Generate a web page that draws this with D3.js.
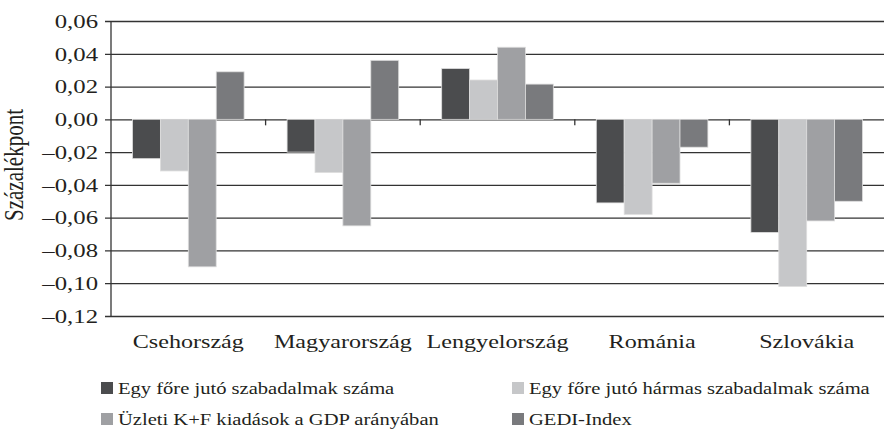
<!DOCTYPE html>
<html>
<head>
<meta charset="utf-8">
<script src="https://cdn.jsdelivr.net/npm/d3@7"></script>
<style>
  body { margin: 0; background: #fff; }
  svg text { font-family: "Liberation Serif", "Times New Roman", serif; fill: #231f20; }
</style>
</head>
<body>
<div id="chart"></div>
<script>
// data
const countries = ["Csehország", "Magyarország", "Lengyelország", "Románia", "Szlovákia"];
const seriesNames = [
  "Egy főre jutó szabadalmak száma",
  "Egy főre jutó hármas szabadalmak száma",
  "Üzleti K+F kiadások a GDP arányában",
  "GEDI-Index"
];
const patents = [-0.024, -0.020, 0.031, -0.051, -0.069];
const triadic = [-0.0315, -0.0325, 0.024, -0.058, -0.102];
const rdSpend = [-0.090, -0.065, 0.044, -0.039, -0.062];
const gedi = [0.029, 0.036, 0.0215, -0.017, -0.050];
const yTicks = [0.06, 0.04, 0.02, 0, -0.02, -0.04, -0.06, -0.08, -0.10, -0.12];

const seriesValues = [patents, triadic, rdSpend, gedi];
const colors = ["#4b4c4e", "#c6c7c9", "#9fa0a3", "#797a7d"];
const stretch = 1.27; // the picture's text is wider than normal Times

const width = 884, height = 433;
const margin = { top: 21, right: 0, bottom: 117, left: 111 };

const svg = d3.select("#chart").append("svg")
  .attr("width", width)
  .attr("height", height);

const x = d3.scaleBand()
  .domain(countries)
  .range([margin.left, width - margin.right]);

const xInner = d3.scaleBand()
  .domain(d3.range(seriesNames.length))
  .range([0, x.bandwidth()])
  .paddingInner(0)
  .paddingOuter(0.77);

const y = d3.scaleLinear()
  .domain([-0.12, 0.06])
  .range([height - margin.bottom, margin.top]);

const fmt = v => {
  const s = Math.abs(v).toFixed(2).replace(".", ",");
  return v < -1e-9 ? "\u2013" + s : s;
};

// gridlines + y ticks
const yAxis = svg.append("g")
  .attr("transform", `translate(${margin.left},0)`)
  .call(d3.axisLeft(y).tickValues(yTicks).tickFormat(fmt)
    .tickSize(-(width - margin.left - margin.right)).tickPadding(13));
yAxis.select(".domain").remove();
yAxis.selectAll(".tick line")
  .attr("x1", -6)
  .attr("stroke", "#333")
  .attr("stroke-width", 1.3);
yAxis.selectAll(".tick text")
  .attr("class", "stretch")
  .style("font-size", "19.5px")
  .style("font-family", "Liberation Serif, serif")
  .attr("fill", "#231f20");

// bars
const rows = countries.map((c, i) => ({ country: c, values: seriesValues.map(s => s[i]) }));
svg.append("g").selectAll("g")
  .data(rows)
  .join("g")
  .attr("transform", d => `translate(${x(d.country)},0)`)
  .selectAll("rect")
  .data(d => d.values.map((v, k) => ({ k, v })))
  .join("rect")
  .attr("x", d => xInner(d.k))
  .attr("width", xInner.bandwidth())
  .attr("y", d => y(Math.max(0, d.v)))
  .attr("height", d => Math.abs(y(d.v) - y(0)))
  .attr("fill", d => colors[d.k])
  .attr("stroke", "#dedede")
  .attr("stroke-width", 0.8);

// vertical axis line
svg.append("line")
  .attr("x1", margin.left).attr("x2", margin.left)
  .attr("y1", y(0.06)).attr("y2", y(-0.12))
  .attr("stroke", "#333").attr("stroke-width", 1.3);

// category ticks on the zero line
svg.append("g").selectAll("line")
  .data(countries.slice(1))
  .join("line")
  .attr("x1", d => x(d)).attr("x2", d => x(d))
  .attr("y1", y(0)).attr("y2", y(0) + 6)
  .attr("stroke", "#333").attr("stroke-width", 1.3);

// category labels
svg.append("g").selectAll("text")
  .data(countries)
  .join("text")
  .attr("class", "stretch")
  .attr("x", d => x(d) + x.bandwidth() / 2)
  .attr("y", 348)
  .attr("text-anchor", "middle")
  .style("font-size", "19px")
  .text(d => d);

// y title
svg.append("text")
  .attr("transform", `translate(23,165) scale(${stretch},1) rotate(-90)`)
  .attr("text-anchor", "middle")
  .style("font-size", "21px")
  .text("Százalékpont");

// legend
const legendPos = [[101, 382], [512, 382], [101, 413], [512, 413]];
const legend = svg.append("g").selectAll("g")
  .data(seriesNames)
  .join("g")
  .attr("transform", (d, i) => `translate(${legendPos[i][0]},${legendPos[i][1]})`);
legend.append("rect")
  .attr("width", 12).attr("height", 12)
  .attr("fill", (d, i) => colors[i]);
legend.append("text")
  .attr("class", "stretch")
  .attr("x", 17)
  .attr("y", 11.5)
  .style("font-size", "16.2px")
  .text(d => d);

// widen the glyphs like in the picture
svg.selectAll("text.stretch").each(function () {
  const t = d3.select(this);
  const x0 = +t.attr("x") || 0;
  t.attr("x", x0 / stretch).attr("transform", `scale(${stretch},1)`);
});
</script>
</body>
</html>
